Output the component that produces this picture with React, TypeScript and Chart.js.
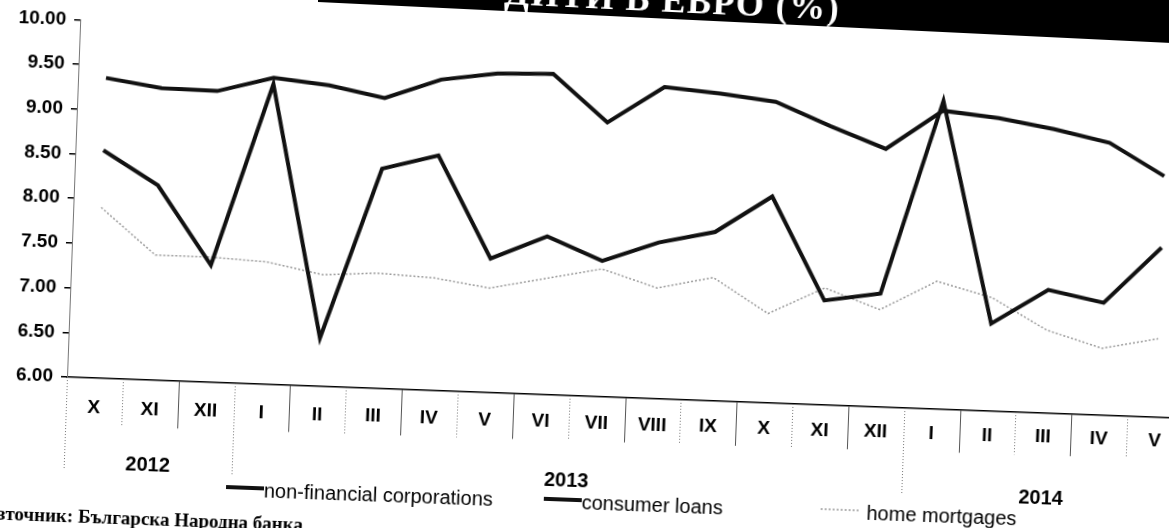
import React, { useEffect, useRef } from 'react';
import { Chart, registerables } from 'chart.js';

Chart.register(...registerables);

// ---- data ----
const months = ['X', 'XI', 'XII', 'I', 'II', 'III', 'IV', 'V', 'VI', 'VII', 'VIII', 'IX', 'X', 'XI', 'XII', 'I', 'II', 'III', 'IV', 'V'];
const yearLabels = ['2012', '2013', '2014'];
const yearFirstIndex = [0, 3, 15];
const yearLastIndex = [2, 14, 19];

const nonFinancial = [8.55, 8.18, 7.31, 9.36, 6.54, 8.46, 8.63, 7.5, 7.77, 7.52, 7.75, 7.89, 8.31, 7.17, 7.27, 9.45, 6.98, 7.38, 7.26, 7.9];
const consumerLoans = [9.36, 9.27, 9.26, 9.43, 9.37, 9.25, 9.48, 9.57, 9.59, 9.07, 9.49, 9.44, 9.37, 9.12, 8.89, 9.34, 9.28, 9.18, 9.05, 8.7];
const homeMortgages = [7.91, 7.4, 7.4, 7.37, 7.25, 7.29, 7.26, 7.17, 7.3, 7.43, 7.24, 7.38, 7.0, 7.31, 7.09, 7.43, 7.27, 6.93, 6.75, 6.88];

const seriesNames = ['non-financial corporations', 'consumer loans', 'home mortgages'];
const yMin = 6;
const yMax = 10;
const yStep = 0.5;

const titleText = 'ДИТИ В ЕВРО (%)';
const sourceText = 'Източник: Българска Народна банка';

// ---- layout / style ----
const W = 1200;
const H = 540;
const SANS = '"Liberation Sans", Arial, sans-serif';
const SERIF = '"Liberation Serif", "Times New Roman", serif';
const LINE_BLACK = '#111111';
const MORTGAGE_GRAY = '#9a9a9a';
const PAGE_CURL = 0.006; // labels under the axis drift up slightly to the right in the scan

const overlayPlugin = {
  id: 'overlayPlugin',
  afterDraw(chart: any) {
    const { ctx, chartArea } = chart;
    const x = chart.scales.x;
    const base = chartArea.bottom;
    const catW = (chartArea.right - chartArea.left) / months.length;
    const curl = (px: number) => -PAGE_CURL * (px - chartArea.left);
    ctx.save();

    // category dividers
    for (let k = 0; k <= months.length; k++) {
      const xx = Math.round(chartArea.left + k * catW) + 0.5;
      const isYear = yearFirstIndex.includes(k) || k === months.length;
      const len = isYear ? 92 : 48;
      ctx.beginPath();
      if (isYear || k % 2 === 1) {
        ctx.setLineDash([1, 2]);
        ctx.strokeStyle = '#777';
      } else {
        ctx.setLineDash([]);
        ctx.strokeStyle = '#555';
      }
      ctx.lineWidth = 1;
      ctx.moveTo(xx, base);
      ctx.lineTo(xx, base + len + curl(xx));
      ctx.stroke();
    }
    ctx.setLineDash([]);

    // month labels
    ctx.fillStyle = '#000';
    ctx.textAlign = 'center';
    ctx.textBaseline = 'middle';
    ctx.font = `bold 19px ${SANS}`;
    months.forEach((m, i) => {
      const px = x.getPixelForValue(i);
      ctx.fillText(m, px, base + 30 + curl(px));
    });

    // year labels
    ctx.font = `bold 20px ${SANS}`;
    yearLabels.forEach((yl, i) => {
      const cx = (x.getPixelForValue(yearFirstIndex[i]) + x.getPixelForValue(yearLastIndex[i])) / 2;
      ctx.fillText(yl, cx, base + 85);
    });

    // legend
    const legendY = base + 104;
    const legendX = [230, 548, 825];
    ctx.textAlign = 'left';
    ctx.font = `20px ${SANS}`;
    seriesNames.forEach((name, i) => {
      const mx = legendX[i];
      ctx.beginPath();
      if (i < 2) {
        ctx.setLineDash([]);
        ctx.strokeStyle = LINE_BLACK;
        ctx.lineWidth = 4;
      } else {
        ctx.setLineDash([2, 2]);
        ctx.strokeStyle = MORTGAGE_GRAY;
        ctx.lineWidth = 1.5;
      }
      ctx.moveTo(mx, legendY);
      ctx.lineTo(mx + 38, legendY);
      ctx.stroke();
      ctx.setLineDash([]);
      ctx.fillStyle = '#000';
      ctx.fillText(name, mx + (i < 2 ? 38 : 46), legendY + 3);
    });

    // source
    ctx.font = `bold 19px ${SERIF}`;
    ctx.fillText(sourceText, -12, base + 140);

    ctx.restore();
  },
};

export default function App() {
  const canvasRef = useRef<HTMLCanvasElement | null>(null);

  useEffect(() => {
    const canvas = canvasRef.current;
    if (!canvas) return;
    const chart = new Chart(canvas, {
      type: 'line',
      data: {
        labels: months,
        datasets: [
          {
            label: seriesNames[0],
            data: nonFinancial,
            borderColor: LINE_BLACK,
            borderWidth: 4,
            pointRadius: 0,
            tension: 0,
            fill: false,
          },
          {
            label: seriesNames[1],
            data: consumerLoans,
            borderColor: LINE_BLACK,
            borderWidth: 4,
            pointRadius: 0,
            tension: 0,
            fill: false,
          },
          {
            label: seriesNames[2],
            data: homeMortgages,
            borderColor: MORTGAGE_GRAY,
            borderWidth: 1.5,
            borderDash: [2, 2],
            pointRadius: 0,
            tension: 0,
            fill: false,
          },
        ],
      },
      options: {
        responsive: false,
        animation: false,
        devicePixelRatio: 1,
        layout: { padding: { top: 17, right: 16, left: 0, bottom: 0 } },
        plugins: {
          legend: { display: false },
          tooltip: { enabled: false },
          title: { display: false },
        },
        scales: {
          x: {
            type: 'category',
            offset: true,
            grid: { display: false },
            ticks: { display: false },
            border: { display: true, color: '#000', width: 1.5 },
            afterFit: (s: any) => {
              s.height = 163;
            },
          },
          y: {
            min: yMin,
            max: yMax,
            ticks: {
              stepSize: yStep,
              callback: (v: any) => Number(v).toFixed(2),
              font: { family: SANS, size: 19, weight: 'bold' },
              color: '#000',
              padding: 8,
            },
            grid: {
              drawOnChartArea: false,
              drawTicks: true,
              tickLength: 6,
              color: '#000',
              lineWidth: 1.5,
            },
            border: { display: true, color: '#777', width: 1, dash: [1, 2] },
            afterFit: (s: any) => {
              s.width = 67;
            },
          },
        },
      } as any,
      plugins: [overlayPlugin],
    });
    return () => chart.destroy();
  }, []);

  return (
    <div
      style={{
        position: 'fixed',
        left: 0,
        top: 0,
        width: '100vw',
        height: '100vh',
        overflow: 'hidden',
        background: '#fff',
      }}
    >
      <div
        style={{
          position: 'absolute',
          left: 0,
          top: 0,
          width: W,
          height: H,
          transformOrigin: '65px 377px',
          transform: 'rotate(2.12deg)',
        }}
      >
        <canvas ref={canvasRef} width={W} height={H} style={{ display: 'block' }} />
      </div>
      <div
        style={{
          position: 'absolute',
          left: 318,
          top: -60,
          width: 900,
          height: 62,
          background: '#000',
          transformOrigin: '0 100%',
          transform: 'rotate(2.75deg)',
        }}
      >
        <div
          style={{
            position: 'absolute',
            left: 186,
            bottom: -2,
            color: '#fff',
            fontFamily: SERIF,
            fontWeight: 'bold',
            fontSize: 36,
            letterSpacing: 1.5,
            whiteSpace: 'nowrap',
          }}
        >
          {titleText}
        </div>
      </div>
    </div>
  );
}
